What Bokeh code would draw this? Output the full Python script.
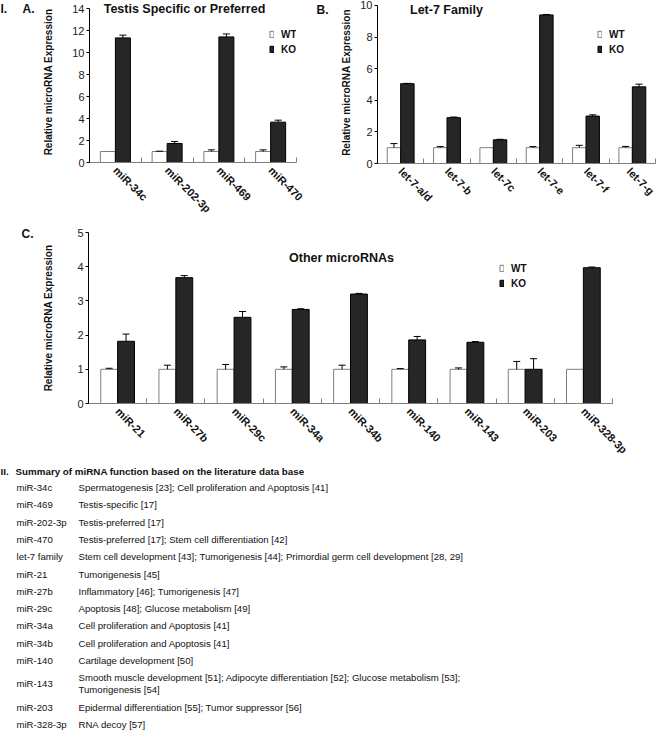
import math
from bokeh.plotting import figure
from bokeh.layouts import column, row
from bokeh.models import (Range1d, FixedTicker, Label, Legend, LegendItem, ColumnDataSource,
                          Whisker, TeeHead, GlobalInlineStyleSheet)
from bokeh.embed import file_html
from bokeh.resources import INLINE
from bokeh.core.properties import value

FONT = "Liberation Sans"

# ---------------- data ----------------
a_names = ["miR-34c", "miR-202-3p", "miR-469", "miR-470"]
a_wt = [1.0, 1.0, 1.0, 1.0]
a_wt_err = [0.0, 0.03, 0.15, 0.15]
a_ko = [11.33, 1.73, 11.42, 3.67]
a_ko_err = [0.25, 0.18, 0.27, 0.18]

b_names = ["let-7-a/d", "let-7-b", "let-7c", "let-7-e", "let-7-f", "let-7-g"]
b_wt = [1.0, 1.0, 1.0, 1.0, 1.0, 1.0]
b_wt_err = [0.26, 0.07, 0.0, 0.07, 0.15, 0.08]
b_ko = [5.05, 2.9, 1.5, 9.4, 3.0, 4.85]
b_ko_err = [0.02, 0.04, 0.03, 0.03, 0.08, 0.17]

c_names = ["miR-21", "miR-27b", "miR-29c", "miR-34a", "miR-34b", "miR-140", "miR-143", "miR-203", "miR-328-3p"]
c_wt = [1.0, 1.0, 1.0, 1.0, 1.0, 1.0, 1.0, 1.0, 1.0]
c_wt_err = [0.03, 0.12, 0.14, 0.07, 0.12, 0.02, 0.04, 0.23, 0.0]
c_ko = [1.82, 3.68, 2.52, 2.75, 3.2, 1.86, 1.79, 1.0, 3.97]
c_ko_err = [0.21, 0.06, 0.17, 0.02, 0.02, 0.1, 0.02, 0.31, 0.02]

series_labels = ["WT", "KO"]
y_label = "Relative microRNA Expression"

tbl_heading = "Summary of miRNA function based on the literature data base"
tbl_names = ["miR-34c", "miR-469", "miR-202-3p", "miR-470", "let-7 family", "miR-21", "miR-27b",
             "miR-29c", "miR-34a", "miR-34b", "miR-140", "miR-143", "miR-203", "miR-328-3p"]
tbl_desc = [
    ["Spermatogenesis [23]; Cell proliferation and Apoptosis [41]"],
    ["Testis-specific [17]"],
    ["Testis-preferred [17]"],
    ["Testis-preferred [17]; Stem cell differentiation [42]"],
    ["Stem cell development [43]; Tumorigenesis [44]; Primordial germ cell development [28, 29]"],
    ["Tumorigenesis [45]"],
    ["Inflammatory [46]; Tumorigenesis [47]"],
    ["Apoptosis [48]; Glucose metabolism [49]"],
    ["Cell proliferation and Apoptosis [41]"],
    ["Cell proliferation and Apoptosis [41]"],
    ["Cartilage development [50]"],
    ["Smooth muscle development [51]; Adipocyte differentiation [52]; Glucose metabolism [53];",
     "Tumorigenesis [54]"],
    ["Epidermal differentiation [55]; Tumor suppressor [56]"],
    ["RNA decoy [57]"],
]

BW = 0.29


def text_fig(width, height):
    p = figure(width=width, height=height, x_range=Range1d(0, width), y_range=Range1d(height, 0),
               output_backend="svg", toolbar_location=None, x_axis_type=None, y_axis_type=None,
               min_border_left=0, min_border_right=0, min_border_top=0, min_border_bottom=0,
               frame_align=False)
    p.outline_line_color = None
    p.xgrid.visible = False
    p.ygrid.visible = False
    return p


def letters_fig(width, height, letters):
    p = text_fig(width, height)
    p.text(x=[l[1] for l in letters], y=[l[2] for l in letters], text=[l[0] for l in letters],
           text_font=value(FONT), text_font_style="bold", text_font_size="12px",
           text_baseline="middle", text_color="#111111")
    return p


def panel(names, wt, wt_err, ko, ko_err, ymax, yend, ystep, width, height, mb, ylab_standoff,
          title, title_xy, legend_xy):
    n = len(names)
    p = figure(width=width, height=height, x_range=Range1d(0.5, n + 0.5), y_range=Range1d(0, yend),
               output_backend="svg", toolbar_location=None, frame_align=False,
               min_border_left=mb[0], min_border_right=mb[1], min_border_top=mb[2], min_border_bottom=mb[3])
    p.outline_line_color = None
    p.xgrid.visible = False
    p.ygrid.visible = False

    idx = list(range(1, n + 1))
    x_wt = [i - BW / 2 for i in idx]
    x_ko = [i + BW / 2 for i in idx]
    r_wt = p.vbar(x=x_wt, top=wt, bottom=0, width=BW, fill_color="white", line_color="#7f7f7f", line_width=1)
    r_ko = p.vbar(x=x_ko, top=ko, bottom=0, width=BW, fill_color="#262626", line_color="#000000", line_width=1)

    for xs, vals, errs in ((x_wt, wt, wt_err), (x_ko, ko, ko_err)):
        keep = [k for k in range(n) if errs[k] > 0]
        src = ColumnDataSource(dict(x=[xs[k] for k in keep], lo=[vals[k] for k in keep],
                                    hi=[vals[k] + errs[k] for k in keep]))
        p.add_layout(Whisker(source=src, base="x", lower="lo", upper="hi", lower_head=None,
                             upper_head=TeeHead(size=7, line_color="black", line_width=1),
                             line_color="black", line_width=1, level="overlay"))

    # x axis
    xa = p.xaxis[0]
    xa.ticker = FixedTicker(ticks=idx, minor_ticks=[i - 0.5 for i in idx] + [n + 0.5])
    xa.major_label_overrides = {i: names[i - 1] for i in idx}
    xa.major_tick_line_color = None
    xa.major_tick_in = 0
    xa.major_tick_out = 0
    xa.minor_tick_line_color = "#7f7f7f"
    xa.minor_tick_in = 5
    xa.minor_tick_out = 0
    xa.axis_line_color = "#7f7f7f"
    xa.major_label_orientation = -math.pi / 4
    xa.major_label_standoff = 6
    xa.major_label_text_font = FONT
    xa.major_label_text_font_style = "bold"
    xa.major_label_text_font_size = "11px"
    xa.major_label_text_color = "#111111"

    # y axis
    ya = p.yaxis[0]
    ya.bounds = (0, ymax)
    ya.ticker = FixedTicker(ticks=list(range(0, ymax + 1, ystep)))
    ya.axis_line_color = "#000000"
    ya.major_tick_line_color = "#000000"
    ya.major_tick_in = 0
    ya.major_tick_out = 3
    ya.minor_tick_line_color = None
    ya.major_label_standoff = 2
    ya.major_label_text_font = FONT
    ya.major_label_text_font_size = "11px"
    ya.major_label_text_color = "#222222"
    ya.axis_label = y_label
    ya.axis_label_text_font = FONT
    ya.axis_label_text_font_style = "bold"
    ya.axis_label_text_font_size = "10px"
    ya.axis_label_text_color = "#111111"
    ya.axis_label_standoff = ylab_standoff

    legend = Legend(items=[LegendItem(label=series_labels[0], renderers=[r_wt]),
                           LegendItem(label=series_labels[1], renderers=[r_ko])],
                    location=legend_xy, orientation="vertical",
                    glyph_width=5, glyph_height=8, label_height=12, label_standoff=7,
                    spacing=3, padding=0, margin=0,
                    label_text_font=FONT, label_text_font_style="bold", label_text_font_size="10px",
                    label_text_color="#111111",
                    background_fill_alpha=0, border_line_color=None)
    p.add_layout(legend)

    p.add_layout(Label(x=title_xy[0], y=title_xy[1], x_units="screen", y_units="screen", text=title,
                       text_font=FONT, text_font_style="bold", text_font_size="12.5px",
                       text_align="center", text_baseline="middle", text_color="#111111"))
    return p


# Row 1: letters I./A. | panel A | letter B. | panel B
lA = letters_fig(40, 222, [("I.", 0, 8), ("A.", 22, 8)])
pA = panel(a_names, a_wt, a_wt_err, a_ko, a_ko_err, 14, 14.64, 2, 274, 222, (48, 18, 1, 60), 15,
           "Testis Specific or Preferred", (95, 154), (180, 107))
lB = letters_fig(24, 222, [("B.", 2, 9)])
pB = panel(b_names, b_wt, b_wt_err, b_ko, b_ko_err, 10, 10.25, 2, 318, 222, (35, 1, 1, 59), 5,
           "Let-7 Family", (69, 154), (220, 108))

# Row 2: letter C. | panel C
lC = letters_fig(40, 240, [("C.", 21, 11)])
pC = panel(c_names, c_wt, c_wt_err, c_ko, c_ko_err, 5, 5, 1, 616, 240, (48, 44, 10, 58), 20,
           "Other microRNAs", (253, 146), (411, 114))

# ---------------- table ----------------
TH = 268
pT = text_fig(656, TH)
head_y = 9
first_y = 25
pitch = 17.3
inner = 12
name_y, desc_y, desc_t = [], [], []
cur = first_y
for k, lines in enumerate(tbl_desc):
    ys = [cur + j * inner for j in range(len(lines))]
    name_y.append(sum(ys) / len(ys))
    for j, t in enumerate(lines):
        desc_y.append(ys[j])
        desc_t.append(t)
    cur = ys[-1] + pitch

pT.text(x=[0], y=[head_y], text=["II."], text_font=value(FONT), text_font_style="bold",
        text_font_size="9.8px", text_baseline="middle", text_color="#111111")
pT.text(x=[15], y=[head_y], text=[tbl_heading], text_font=value(FONT), text_font_style="bold",
        text_font_size="9.8px", text_baseline="middle", text_color="#111111")
pT.text(x=[16] * len(tbl_names), y=name_y, text=tbl_names, text_font=value(FONT),
        text_font_size="9.6px", text_baseline="middle", text_color="#111111")
pT.text(x=[78] * len(desc_t), y=desc_y, text=desc_t, text_font=value(FONT),
        text_font_size="9.6px", text_baseline="middle", text_color="#111111")

layout = column(row(lA, pA, lB, pB), row(lC, pC), pT)
layout.stylesheets = [GlobalInlineStyleSheet(css="body { margin: 0 !important; }")]

open("out.html", "w").write(file_html(layout, INLINE))
